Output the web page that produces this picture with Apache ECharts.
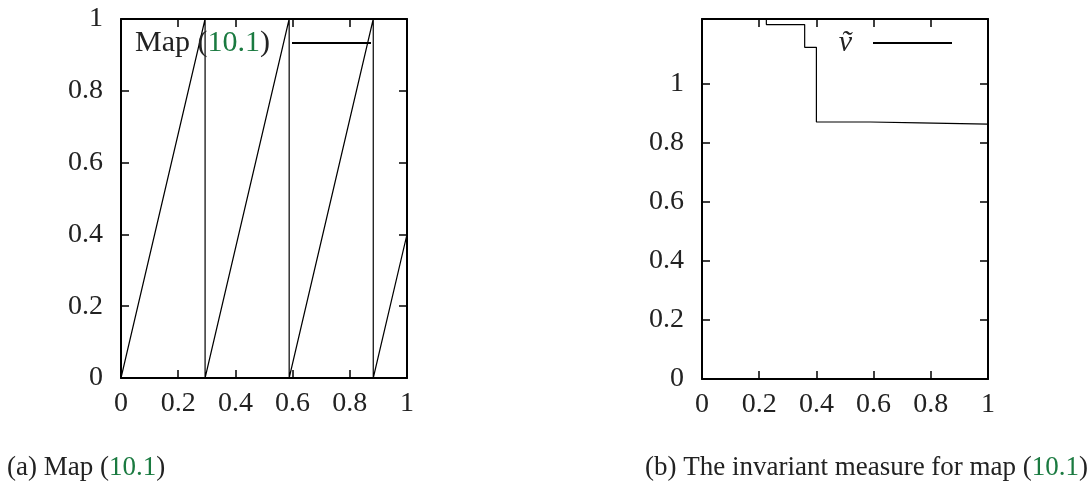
<!DOCTYPE html>
<html>
<head>
    <meta charset="UTF-8">
    <script src="https://cdn.jsdelivr.net/npm/echarts@6/dist/echarts.min.js"></script>
    <style>
        * {
            margin: 0;
            padding: 0;
        }

        body {
            background-color: #fff;
        }

        #chart {
            width: 1091px;
            height: 484px;
        }
    </style>
    <title>Map (10.1)</title>
</head>

<body>
    <div id="chart"></div>
</body>
<script>
    // (a) map 10.1 (slope ~3.4, mod 1)
    var mapX = [0, 0.294, 0.294, 0.588, 0.588, 0.882, 0.882, 1];
    var mapY = [0, 1, 0, 1, 0, 1, 0, 0.4];

    // (b) invariant measure, step function (value holds from x to next x)
    var measX = [0, 0.225, 0.359, 0.4, 0.589, 0.761, 1];
    var measY = [1.22, 1.201, 1.124, 0.871, 0.868, 0.864, 0.864];

    var xTicks = [0, 0.2, 0.4, 0.6, 0.8, 1];
    var yTicksA = [0, 0.2, 0.4, 0.6, 0.8, 1];
    var yTicksB = [0, 0.2, 0.4, 0.6, 0.8, 1];

    var serif = "'Liberation Serif', 'DejaVu Serif', serif";
    var ink = '#222';
    var green = '#1a7a40';

    function pairs(xs, ys) {
        var out = [];
        xs.forEach(function (x, i) {
            out.push([x, ys[i]]);
        });
        return out;
    }

    function fmt(v) {
        return String(Math.round(v * 10) / 10);
    }

    // one visible axis + one mirrored axis (ticks only) per side
    function axis(pos, grid, max, ticks, showLabel) {
        return {
            type: 'value',
            gridIndex: grid,
            position: pos,
            min: 0,
            max: max,
            splitLine: { show: false },
            axisLine: { show: true, onZero: false, lineStyle: { color: '#000', width: 2 } },
            axisTick: {
                show: true,
                inside: true,
                length: 8,
                customValues: ticks,
                lineStyle: { color: '#000', width: 1.5 }
            },
            axisLabel: {
                show: showLabel,
                customValues: ticks,
                formatter: fmt,
                color: ink,
                fontFamily: serif,
                fontSize: 28,
                margin: pos == 'left' ? 18 : 12
            }
        };
    }

    var myChart = echarts.init(document.getElementById('chart'));

    var option = {
        animation: false,
        grid: [
            { left: 121, right: 684, top: 19, bottom: 106 },
            { left: 702, right: 103, top: 19, bottom: 105 }
        ],
        xAxis: [
            axis('bottom', 0, 1, xTicks, true),
            axis('top', 0, 1, xTicks, false),
            axis('bottom', 1, 1, xTicks, true),
            axis('top', 1, 1, xTicks, false)
        ],
        yAxis: [
            axis('left', 0, 1, yTicksA, true),
            axis('right', 0, 1, yTicksA, false),
            axis('left', 1, 1.22, yTicksB, true),
            axis('right', 1, 1.22, yTicksB, false)
        ],
        legend: [
            {
                data: ['Map'],
                right: 714,
                top: 23,
                align: 'right',
                itemWidth: 79,
                itemHeight: 14,
                itemStyle: { color: 'rgba(0,0,0,0)', borderWidth: 0 },
                formatter: 'Map ({g|10.1})',
                textStyle: {
                    color: ink,
                    fontFamily: serif,
                    fontSize: 30,
                    padding: [0, 17, 0, 0],
                    rich: {
                        g: { color: green, fontFamily: serif, fontSize: 30 }
                    }
                }
            },
            {
                data: ['v'],
                right: 133,
                top: 23,
                align: 'right',
                itemWidth: 79,
                itemHeight: 14,
                itemStyle: { color: 'rgba(0,0,0,0)', borderWidth: 0 },
                formatter: '\u1E7D',
                textStyle: {
                    color: ink,
                    fontFamily: serif,
                    fontStyle: 'italic',
                    fontSize: 30,
                    padding: [0, 16, 0, 0]
                }
            }
        ],
        series: [
            {
                name: 'Map',
                type: 'line',
                xAxisIndex: 0,
                yAxisIndex: 0,
                symbol: 'none',
                data: pairs(mapX, mapY),
                lineStyle: { color: '#000', width: 1.2 },
                itemStyle: { color: '#000' }
            },
            {
                name: 'v',
                type: 'line',
                xAxisIndex: 2,
                yAxisIndex: 2,
                symbol: 'none',
                step: 'end',
                data: pairs(measX, measY),
                lineStyle: { color: '#000', width: 1.2 },
                itemStyle: { color: '#000' }
            }
        ],
        graphic: [
            {
                type: 'text',
                left: 7,
                top: 454,
                style: {
                    text: '(a) Map ({g|10.1})',
                    fill: ink,
                    font: '27px ' + serif,
                    rich: { g: { fill: green, font: '27px ' + serif } }
                }
            },
            {
                type: 'text',
                left: 645,
                top: 454,
                style: {
                    text: '(b) The invariant measure for map ({g|10.1})',
                    fill: ink,
                    font: '27px ' + serif,
                    rich: { g: { fill: green, font: '27px ' + serif } }
                }
            }
        ]
    };

    myChart.setOption(option);
</script>

</html>
